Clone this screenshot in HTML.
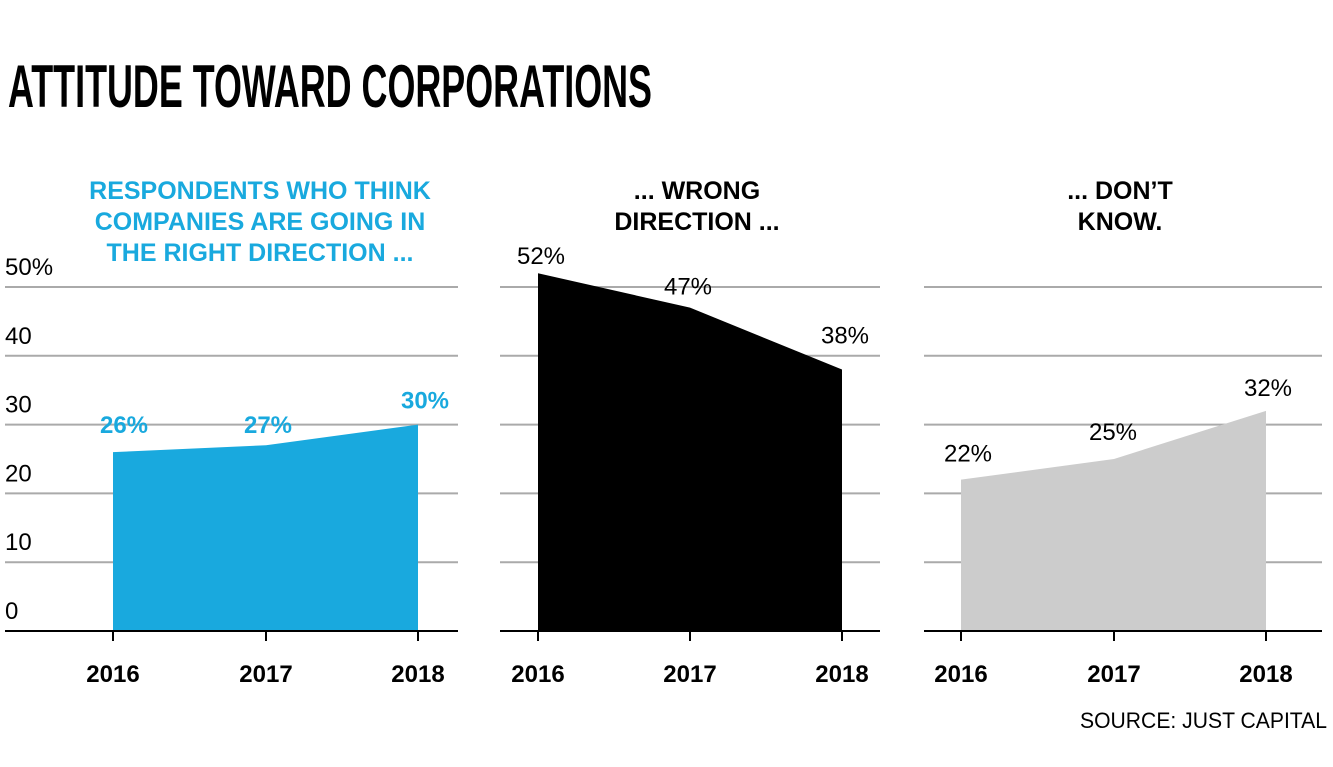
<!DOCTYPE html>
<html><head><meta charset="utf-8"><style>
html,body{margin:0;padding:0;background:#fff;}
svg{display:block;font-family:"Liberation Sans",sans-serif;}
</style></head><body>
<svg id="chart" width="1333" height="767" viewBox="0 0 1333 767" xmlns="http://www.w3.org/2000/svg">
<text x="8" y="107" font-size="60" font-weight="bold" textLength="644" lengthAdjust="spacingAndGlyphs">ATTITUDE TOWARD CORPORATIONS</text>
<g id="panels"></g>
<text x="1327" y="728" text-anchor="end" font-size="22" textLength="247" lengthAdjust="spacingAndGlyphs">SOURCE: JUST CAPITAL</text>
</svg>
<script>
const years = ["2016","2017","2018"];
const rightDir = [26, 27, 30];
const wrongDir = [52, 47, 38];
const dontKnow = [22, 25, 32];
const yTicks = [0, 10, 20, 30, 40, 50];
const yTickLabels = ["0","10","20","30","40","50%"];

const NS = "http://www.w3.org/2000/svg";
const g = document.getElementById("panels");
function y(v){ return 631 - v * 6.88; }
function mk(tag, attrs, parent){
  const e = document.createElementNS(NS, tag);
  for (const k in attrs) e.setAttribute(k, attrs[k]);
  (parent || g).appendChild(e);
  return e;
}
const panels = [
  {name:"right-direction", data:rightDir, x0:5, x1:458, xs:[113,266,418], fill:"#19a9de", lblColor:"#19a9de", bold:true,
   title:["RESPONDENTS WHO THINK","COMPANIES ARE GOING IN","THE RIGHT DIRECTION ..."], tx:260, lx:[124,268,425], dy:[-19,-12,-16]},
  {name:"wrong-direction", data:wrongDir, x0:500, x1:880, xs:[538,690,842], fill:"#000", lblColor:"#000", bold:false,
   title:["... WRONG","DIRECTION ..."], tx:697, lx:[541,688,845], dy:[-9,-13,-26]},
  {name:"dont-know", data:dontKnow, x0:924, x1:1322, xs:[961,1114,1266], fill:"#cccccc", lblColor:"#000", bold:false,
   title:["... DON’T","KNOW."], tx:1120, lx:[968,1113,1268], dy:[-18,-19,-15]}
];
panels.forEach((p, pi) => {
  yTicks.forEach((t, i) => {
    const l = mk("line", {x1:p.x0, x2:p.x1, y1:y(t), y2:y(t), stroke: t===0 ? "#000" : "#aaa", "stroke-width": 2});
    
    
  });
  if (pi === 0) {
    yTicks.forEach((t, i) => {
      const tx = mk("text", {x:5, y:y(t) - 12, "font-size":24});
      tx.textContent = yTickLabels[i];
      
      
    });
  }
  let d = "M" + p.xs[0] + "," + y(0);
  p.data.forEach((v, i) => { d += " L" + p.xs[i] + "," + y(v); });
  d += " L" + p.xs[p.xs.length-1] + "," + y(0) + " Z";
  const a = mk("path", {d:d, fill:p.fill});
  
  
  mk("line", {x1:p.x0, x2:p.x1, y1:y(0), y2:y(0), stroke:"#000", "stroke-width":2});
  years.forEach((yr, i) => {
    const tk = mk("line", {x1:p.xs[i], x2:p.xs[i], y1:y(0), y2:y(0)+10, stroke:"#000", "stroke-width":2});
    
    
    const t = mk("text", {x:p.xs[i], y:682, "font-size":24, "font-weight":"bold", "text-anchor":"middle"});
    t.textContent = yr;
    
    
  });
  p.data.forEach((v, i) => {
    const t = mk("text", {x:p.lx[i], y:y(v) + p.dy[i], "font-size":24, "font-weight":p.bold?"bold":"normal", "text-anchor":"middle", fill:p.lblColor});
    t.textContent = v + "%";
    
    
  });
  p.title.forEach((line, i) => {
    const t = mk("text", {x:p.tx, y:199 + i*31, "font-size":25, "font-weight":"bold", "text-anchor":"middle", fill:p.lblColor});
    t.textContent = line;
    
    
  });
});
</script>
</body></html>
